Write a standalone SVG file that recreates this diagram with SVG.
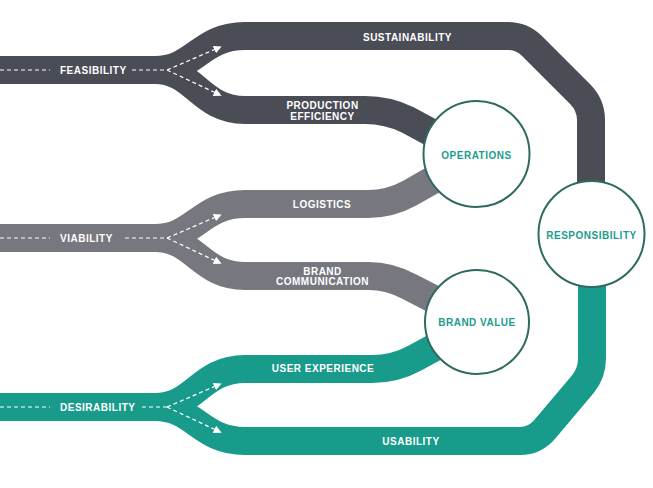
<svg xmlns="http://www.w3.org/2000/svg" width="653" height="488" viewBox="0 0 653 488">
  <style>
    .road { fill: none; stroke-width: 28; stroke-linejoin: round; }
    .dark { stroke: #4a4c56; }
    .grey { stroke: #77787f; }
    .teal { stroke: #189b8b; }
    .dash { fill: none; stroke: #ffffff; stroke-width: 1.2; stroke-dasharray: 4 3; }
    .lbl { font-family: "Liberation Sans", Arial, sans-serif; font-weight: bold; font-size: 10px; letter-spacing: 0.5px; fill: #ffffff; text-anchor: middle; }
    .lbl-l { font-family: "Liberation Sans", Arial, sans-serif; font-weight: bold; font-size: 10px; letter-spacing: 0.5px; fill: #ffffff; }
    .node circle { fill: #ffffff; stroke: #2e6a60; stroke-width: 2; }
    .node text { font-family: "Liberation Sans", Arial, sans-serif; font-weight: bold; font-size: 10px; letter-spacing: 0.5px; fill: #1c9d8f; text-anchor: middle; }
  </style>
  <defs>
    <marker id="ah" viewBox="0 0 10 10" refX="5" refY="5" markerWidth="8" markerHeight="8" markerUnits="userSpaceOnUse" orient="auto">
      <path d="M0,0 L10,5 L0,10 z" fill="#ffffff"/>
    </marker>
  </defs>

  <g id="connectors">
    <!-- Feasibility (dark) -->
    <path class="road dark" d="M 0 70 L 160 70"/>
    <path class="road dark" d="M 155 70 C 195 70 200 36 245 36 L 508 36 Q 522 36 532 46 L 580 94 Q 591 105 591 120 L 591 200"/>
    <path class="road dark" d="M 155 70 C 195 70 200 110 245 110 L 365 110 Q 388 110 408 120 L 445 140"/>
    <!-- Viability (grey) -->
    <path class="road grey" d="M 0 238 L 160 238"/>
    <path class="road grey" d="M 155 238 C 195 238 200 204 245 204 L 368 204 Q 390 204 410 193 L 445 173"/>
    <path class="road grey" d="M 155 238 C 195 238 200 276 245 276 L 368 276 Q 390 276 410 287 L 445 305"/>
    <!-- Desirability (teal) -->
    <path class="road teal" d="M 0 407 L 160 407"/>
    <path class="road teal" d="M 155 407 C 195 407 200 369 245 369 L 372 369 Q 395 369 415 358 L 448 340"/>
    <path class="road teal" d="M 155 407 C 195 407 200 441 245 441 L 520 441 Q 535 441 545 429 L 583 384 Q 592 373 592 358 L 592 270"/>

    <!-- dashed guides -->
    <line class="dash" x1="0" y1="70" x2="50" y2="70"/>
    <line class="dash" x1="132" y1="70" x2="167" y2="70"/>
    <line class="dash" x1="167" y1="70" x2="218" y2="48" marker-end="url(#ah)"/>
    <line class="dash" x1="167" y1="70" x2="218" y2="94" marker-end="url(#ah)"/>

    <line class="dash" x1="0" y1="238" x2="50" y2="238"/>
    <line class="dash" x1="125" y1="238" x2="167" y2="238"/>
    <line class="dash" x1="167" y1="238" x2="218" y2="216" marker-end="url(#ah)"/>
    <line class="dash" x1="167" y1="238" x2="218" y2="262" marker-end="url(#ah)"/>

    <line class="dash" x1="0" y1="407" x2="50" y2="407"/>
    <line class="dash" x1="142" y1="407" x2="167" y2="407"/>
    <line class="dash" x1="167" y1="407" x2="218" y2="385" marker-end="url(#ah)"/>
    <line class="dash" x1="167" y1="407" x2="218" y2="431" marker-end="url(#ah)"/>

    <!-- road labels -->
    <text class="lbl-l" x="60" y="73.6">FEASIBILITY</text>
    <text class="lbl-l" x="60" y="242.2">VIABILITY</text>
    <text class="lbl-l" x="60" y="410.6">DESIRABILITY</text>
    <text class="lbl" x="407.5" y="40.6">SUSTAINABILITY</text>
    <text class="lbl" x="322.5" y="108.6">PRODUCTION</text>
    <text class="lbl" x="322.5" y="119.6">EFFICIENCY</text>
    <text class="lbl" x="322" y="207.6">LOGISTICS</text>
    <text class="lbl" x="322.5" y="274.6">BRAND</text>
    <text class="lbl" x="322.5" y="284.8">COMMUNICATION</text>
    <text class="lbl" x="323" y="371.6">USER EXPERIENCE</text>
    <text class="lbl" x="411" y="444.6">USABILITY</text>
  </g>

  <g id="operations" class="node">
    <circle cx="476.5" cy="154" r="53"/>
    <text x="476.5" y="158.6">OPERATIONS</text>
  </g>
  <g id="brand-value" class="node">
    <circle cx="477" cy="322" r="52"/>
    <text x="477" y="325.6">BRAND VALUE</text>
  </g>
  <g id="responsibility" class="node">
    <circle cx="591.5" cy="234" r="53"/>
    <text x="591.5" y="238.6">RESPONSIBILITY</text>
  </g>
</svg>
